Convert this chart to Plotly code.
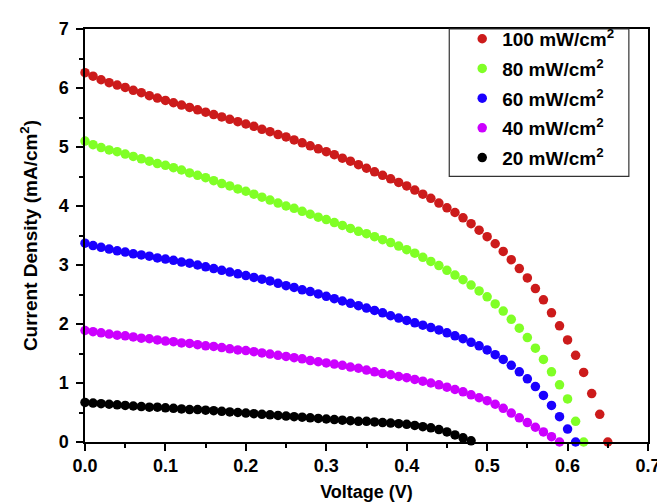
import plotly.graph_objects as go

voltage_step = 0.01

red_100 = [6.26, 6.20, 6.14, 6.09, 6.05, 6.01, 5.96, 5.92, 5.87, 5.83,
           5.79, 5.75, 5.71, 5.67, 5.63, 5.59, 5.55, 5.51, 5.47, 5.43,
           5.39, 5.35, 5.30, 5.26, 5.21, 5.17, 5.12, 5.07, 5.02, 4.97,
           4.92, 4.87, 4.81, 4.76, 4.70, 4.64, 4.58, 4.52, 4.46, 4.40,
           4.34, 4.27, 4.20, 4.13, 4.05, 3.97, 3.89, 3.80, 3.70, 3.59,
           3.48, 3.36, 3.23, 3.09, 2.94, 2.78, 2.60, 2.41, 2.19, 1.97,
           1.73, 1.47, 1.18, 0.82, 0.47, 0.00]

green_80 = [5.10, 5.04, 4.99, 4.95, 4.92, 4.88, 4.84, 4.80, 4.76, 4.72,
            4.69, 4.65, 4.61, 4.56, 4.52, 4.48, 4.43, 4.38, 4.34, 4.29,
            4.25, 4.20, 4.15, 4.10, 4.05, 4.00, 3.96, 3.91, 3.86, 3.81,
            3.77, 3.72, 3.67, 3.62, 3.57, 3.53, 3.48, 3.43, 3.38, 3.32,
            3.26, 3.20, 3.13, 3.06, 2.99, 2.91, 2.83, 2.75, 2.66, 2.56,
            2.46, 2.34, 2.22, 2.08, 1.93, 1.77, 1.59, 1.40, 1.19, 0.97,
            0.73, 0.35, 0.00]

blue_60 = [3.37, 3.33, 3.30, 3.27, 3.24, 3.22, 3.19, 3.17, 3.15, 3.12,
           3.10, 3.08, 3.05, 3.03, 3.00, 2.97, 2.94, 2.91, 2.88, 2.85,
           2.82, 2.79, 2.76, 2.73, 2.69, 2.65, 2.62, 2.58, 2.55, 2.51,
           2.47, 2.43, 2.39, 2.35, 2.31, 2.27, 2.23, 2.19, 2.14, 2.10,
           2.06, 2.02, 1.98, 1.94, 1.90, 1.85, 1.80, 1.75, 1.69, 1.63,
           1.56, 1.48, 1.40, 1.30, 1.19, 1.07, 0.94, 0.79, 0.62, 0.43,
           0.22, 0.00]

magenta_40 = [1.89, 1.87, 1.85, 1.83, 1.81, 1.80, 1.78, 1.76, 1.75, 1.73,
              1.71, 1.70, 1.68, 1.67, 1.65, 1.63, 1.62, 1.60, 1.58, 1.56,
              1.55, 1.53, 1.51, 1.49, 1.47, 1.45, 1.43, 1.41, 1.38, 1.36,
              1.34, 1.32, 1.30, 1.27, 1.25, 1.22, 1.19, 1.16, 1.14, 1.11,
              1.09, 1.06, 1.03, 1.00, 0.97, 0.93, 0.89, 0.85, 0.80, 0.75,
              0.70, 0.64, 0.57, 0.49, 0.41, 0.33, 0.25, 0.17, 0.09, 0.00]

black_20 = [0.67, 0.66, 0.65, 0.64, 0.63, 0.62, 0.61, 0.60, 0.59, 0.59,
            0.58, 0.57, 0.56, 0.55, 0.55, 0.54, 0.53, 0.52, 0.51, 0.50,
            0.49, 0.48, 0.47, 0.46, 0.45, 0.44, 0.43, 0.42, 0.41, 0.40,
            0.39, 0.38, 0.37, 0.36, 0.35, 0.35, 0.34, 0.33, 0.32, 0.31,
            0.30, 0.28, 0.26, 0.24, 0.21, 0.17, 0.12, 0.07, 0.02]

series_names = ["100 mW/cm<sup>2</sup>", "80 mW/cm<sup>2</sup>", "60 mW/cm<sup>2</sup>",
                "40 mW/cm<sup>2</sup>", "20 mW/cm<sup>2</sup>"]
series_values = [red_100, green_80, blue_60, magenta_40, black_20]
series_colors = ["#cc1b1b", "#80ff26", "#1a00ff", "#cc00ff", "#000000"]

x_ticks = [0.0, 0.1, 0.2, 0.3, 0.4, 0.5, 0.6, 0.7]
y_ticks = [0, 1, 2, 3, 4, 5, 6, 7]

FONT = "Liberation Sans, Arial, sans-serif"

fig = go.Figure()
for i, (name, vals, col) in enumerate(zip(series_names, series_values, series_colors)):
    xs = [round(k * voltage_step, 2) for k in range(len(vals))]
    fig.add_trace(go.Scatter(
        x=xs, y=vals, mode="markers", name=name,
        legendgroup=f"g{i}",
        marker=dict(color=col, size=9.5, line=dict(width=0)),
        cliponaxis=False,
    ))

axis_common = dict(
    showline=True, linecolor="black", linewidth=1.5, mirror=True,
    ticks="outside", ticklen=7, tickwidth=1.5, tickcolor="black",
    showgrid=False, zeroline=False,
    tickfont=dict(family=FONT, size=18, color="black", weight="bold"),
)

fig.update_layout(
    width=665, height=504,
    margin=dict(l=77, r=25, t=18, b=70),
    paper_bgcolor="white", plot_bgcolor="white",
    font=dict(family=FONT, color="black"),
    xaxis=dict(
        range=[0, 0.7], tickvals=x_ticks, tickformat=".1f",
        minor=dict(ticks="outside", ticklen=4, tickwidth=1.5, tickcolor="black", dtick=0.05),
        title=dict(text="Voltage (V)", font=dict(family=FONT, size=18, color="black", weight="bold"), standoff=10),
        **axis_common,
    ),
    yaxis=dict(
        range=[0, 7], tickvals=y_ticks,
        minor=dict(ticks="outside", ticklen=4, tickwidth=1.5, tickcolor="black", dtick=0.5),
        ticklabelstandoff=4,
        title=dict(text="Current Density (mA/cm<sup>2</sup>)", font=dict(family=FONT, size=19, color="black", weight="bold"), standoff=16),
        **axis_common,
    ),
    legend=dict(
        x=0.67, y=1.022, xanchor="left", yanchor="top",
        borderwidth=0, bgcolor="rgba(0,0,0,0)",
        font=dict(family=FONT, size=19, color="black", weight="bold"),
        itemsizing="trace", tracegroupgap=2,
    ),
    shapes=[dict(type="rect", xref="paper", yref="paper",
                 x0=0.647, x1=0.966, y0=0.643, y1=1.0,
                 line=dict(color="#333333", width=1.2), fillcolor="rgba(0,0,0,0)", layer="above")],
)

fig.write_html("out.html")
